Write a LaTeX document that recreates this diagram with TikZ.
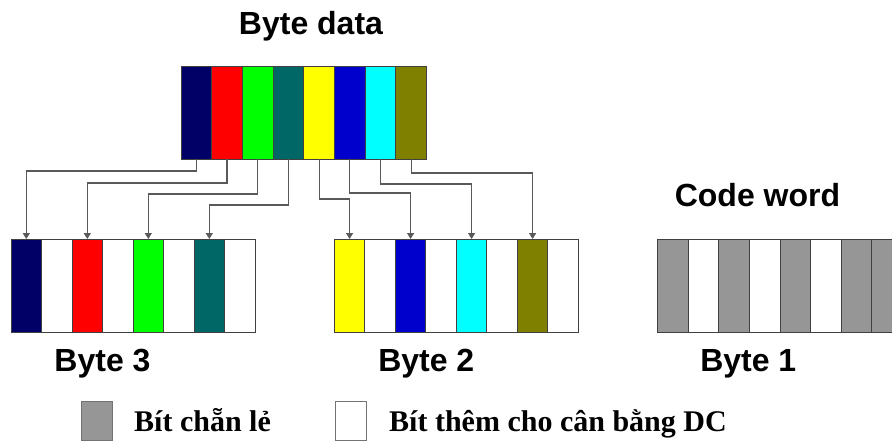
\documentclass[tikz,border=0pt]{standalone}
\usepackage{fontspec}
\setsansfont{Liberation Sans}
\newfontfamily\legendfont{Liberation Serif}
\usetikzlibrary{arrows.meta}

\definecolor{bnavy}{RGB}{0,0,102}
\definecolor{bred}{RGB}{255,0,0}
\definecolor{bgreen}{RGB}{0,255,0}
\definecolor{bteal}{RGB}{0,102,102}
\definecolor{byellow}{RGB}{255,255,0}
\definecolor{bblue}{RGB}{0,0,204}
\definecolor{bcyan}{RGB}{0,255,255}
\definecolor{bolive}{RGB}{128,128,0}
\definecolor{bgray}{RGB}{150,150,150}

\tikzset{
  cell/.style={draw=black!75, line width=0.9pt, minimum width=30.6pt,
    minimum height=93pt, inner sep=0pt, outer sep=0pt, anchor=north west},
  legbox/.style={draw=black!55, line width=0.9pt, minimum width=31pt,
    minimum height=39pt, inner sep=0pt, outer sep=0pt, anchor=north west},
  conn/.style={draw=black!65, line width=1.2pt,
    -{Triangle[width=7pt,length=6pt]}},
  title/.style={font=\sffamily\bfseries\fontsize{32}{36}\selectfont,
    inner sep=0pt, anchor=base},
  legtext/.style={font=\legendfont\bfseries\fontsize{30}{34}\selectfont,
    inner sep=0pt, anchor=base west}
}

\begin{document}
\begin{tikzpicture}[x=1pt, y=-1pt]
  \useasboundingbox (0,0) rectangle (892,441);
  \clip (0,0) rectangle (892,441);
  \fill[white] (0,0) rectangle (892,441);

  % data byte
  \foreach \c [count=\i] in {bnavy,bred,bgreen,bteal,byellow,bblue,bcyan,bolive}
    \node[cell, fill=\c] (d\i) at ({181+30.7*(\i-1)},66) {};

  % byte 3
  \foreach \c [count=\i] in {bnavy,white,bred,white,bgreen,white,bteal,white}
    \node[cell, fill=\c] (p\i) at ({11+30.5*(\i-1)},239) {};

  % byte 2
  \foreach \c [count=\i] in {byellow,white,bblue,white,bcyan,white,bolive,white}
    \node[cell, fill=\c] (q\i) at ({334.3+30.5*(\i-1)},239) {};

  % byte 1 (code word)
  \foreach \c [count=\i] in {bgray,white,bgray,white,bgray,white,bgray,bgray}
    \node[cell, fill=\c] (r\i) at ({657.7+30.6*(\i-1)},239) {};

  % bit routing
  \draw[conn] (d1.south) -- ++(0,12) -| (p1.north);
  \draw[conn] (d2.south) -- ++(0,24) -| (p3.north);
  \draw[conn] (d3.south) -- ++(0,35) -| (p5.north);
  \draw[conn] (d4.south) -- ++(0,46) -| (p7.north);
  \draw[conn] (d5.south) -- ++(0,40) -| (q1.north);
  \draw[conn] (d6.south) -- ++(0,34) -| (q3.north);
  \draw[conn] (d7.south) -- ++(0,25) -| (q5.north);
  \draw[conn] (d8.south) -- ++(0,14) -| (q7.north);

  % titles
  \node[title] (tdata) at (311,35) {Byte data};
  \node[title] (tcode) at (757.5,206.7) {Code word};
  \node[title] (t3) at (102.5,371.7) {Byte 3};
  \node[title] (t2) at (426.3,371.7) {Byte 2};
  \node[title] (t1) at (748.3,371.7) {Byte 1};

  % legend
  \node[legbox, fill=bgray] (lg1) at (81.7,401) {};
  \node[legtext] (lt1) at (134,431.5) {Bít chẵn lẻ};
  \node[legbox, fill=white] (lg2) at (335,401) {};
  \node[legtext] (lt2) at (389,431.5) {Bít thêm cho cân bằng DC};
\end{tikzpicture}
\end{document}
